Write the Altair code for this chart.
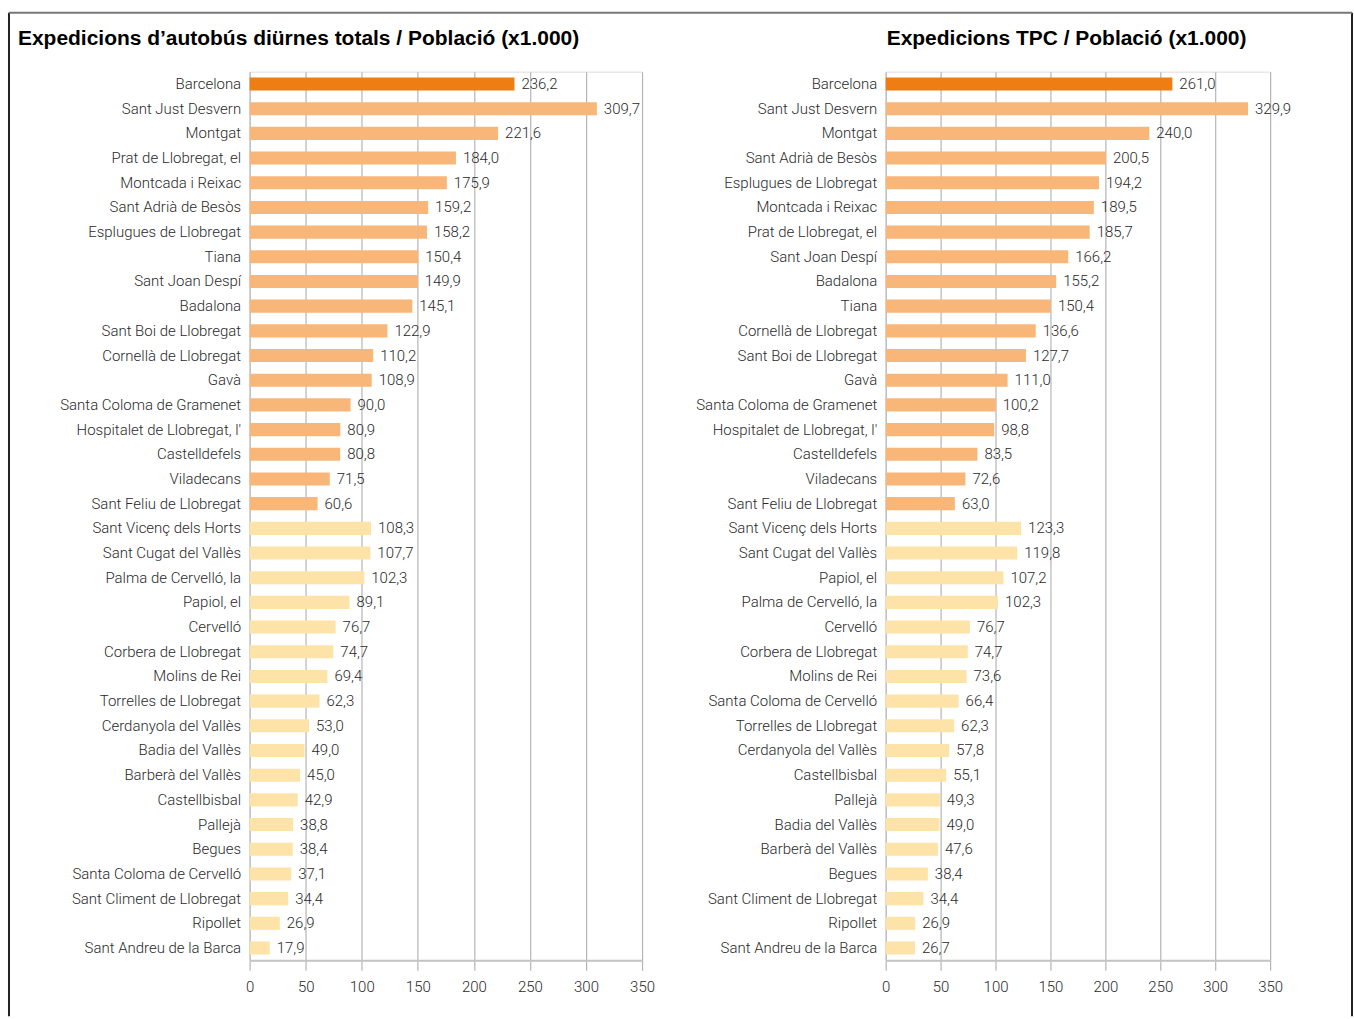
import altair as alt
import pandas as pd

FONT = "Roboto"
TITLE_FONT = "Liberation Sans"

# Left panel: total daytime bus trips per 1,000 inhabitants
left_names = [
    "Barcelona", "Sant Just Desvern", "Montgat", "Prat de Llobregat, el",
    "Montcada i Reixac", "Sant Adrià de Besòs", "Esplugues de Llobregat", "Tiana",
    "Sant Joan Despí", "Badalona", "Sant Boi de Llobregat", "Cornellà de Llobregat",
    "Gavà", "Santa Coloma de Gramenet", "Hospitalet de Llobregat, l'", "Castelldefels",
    "Viladecans", "Sant Feliu de Llobregat", "Sant Vicenç dels Horts", "Sant Cugat del Vallès",
    "Palma de Cervelló, la", "Papiol, el", "Cervelló", "Corbera de Llobregat",
    "Molins de Rei", "Torrelles de Llobregat", "Cerdanyola del Vallès", "Badia del Vallès",
    "Barberà del Vallès", "Castellbisbal", "Pallejà", "Begues",
    "Santa Coloma de Cervelló", "Sant Climent de Llobregat", "Ripollet", "Sant Andreu de la Barca",
]
left_values = [
    236.2, 309.7, 221.6, 184.0, 175.9, 159.2, 158.2, 150.4, 149.9, 145.1,
    122.9, 110.2, 108.9, 90.0, 80.9, 80.8, 71.5, 60.6, 108.3, 107.7,
    102.3, 89.1, 76.7, 74.7, 69.4, 62.3, 53.0, 49.0, 45.0, 42.9,
    38.8, 38.4, 37.1, 34.4, 26.9, 17.9,
]

# Right panel: public transport (TPC) trips per 1,000 inhabitants
right_names = [
    "Barcelona", "Sant Just Desvern", "Montgat", "Sant Adrià de Besòs",
    "Esplugues de Llobregat", "Montcada i Reixac", "Prat de Llobregat, el", "Sant Joan Despí",
    "Badalona", "Tiana", "Cornellà de Llobregat", "Sant Boi de Llobregat",
    "Gavà", "Santa Coloma de Gramenet", "Hospitalet de Llobregat, l'", "Castelldefels",
    "Viladecans", "Sant Feliu de Llobregat", "Sant Vicenç dels Horts", "Sant Cugat del Vallès",
    "Papiol, el", "Palma de Cervelló, la", "Cervelló", "Corbera de Llobregat",
    "Molins de Rei", "Santa Coloma de Cervelló", "Torrelles de Llobregat", "Cerdanyola del Vallès",
    "Castellbisbal", "Pallejà", "Badia del Vallès", "Barberà del Vallès",
    "Begues", "Sant Climent de Llobregat", "Ripollet", "Sant Andreu de la Barca",
]
right_values = [
    261.0, 329.9, 240.0, 200.5, 194.2, 189.5, 185.7, 166.2, 155.2, 150.4,
    136.6, 127.7, 111.0, 100.2, 98.8, 83.5, 72.6, 63.0, 123.3, 119.8,
    107.2, 102.3, 76.7, 74.7, 73.6, 66.4, 62.3, 57.8, 55.1, 49.3,
    49.0, 47.6, 38.4, 34.4, 26.9, 26.7,
]

# Barcelona, first-ring municipalities, rest of the metropolitan area
groups = ["bcn"] + ["first"] * 17 + ["rest"] * 18
group_domain = ["bcn", "first", "rest"]
group_colors = ["#EE7D14", "#F8B678", "#FEE3A8"]

ticks = [0, 50, 100, 150, 200, 250, 300, 350]

left_title = "Expedicions d’autobús diürnes totals / Població (x1.000)"
right_title = "Expedicions TPC / Població (x1.000)"

one = pd.DataFrame({"k": [0]})


def make_frame(names, values):
    df = pd.DataFrame({"municipi": names, "valor": values, "grup": groups})
    df["etiqueta"] = [f"{v:.1f}".replace(".", ",") for v in df["valor"]]
    return df


def panel(df, title, title_x):
    y = alt.Y(
        "municipi:N", sort=None, title=None,
        scale=alt.Scale(paddingInner=0.47, paddingOuter=0.235),
        axis=alt.Axis(ticks=False, domain=False, labelPadding=9, labelFontSize=15,
                      labelFont=FONT, labelFontWeight=300, labelColor="#2a2a2a",
                      labelLimit=400),
    )
    x = alt.X(
        "valor:Q", title=None,
        scale=alt.Scale(domain=[0, 350], nice=False),
        axis=alt.Axis(values=ticks, format="d", grid=True, gridColor="#b5b5b5",
                      gridWidth=1.2, domainColor="#c4c4c4", domainWidth=2,
                      tickColor="#b5b5b5", tickWidth=1.2, tickSize=10,
                      labelFlush=False, labelPadding=9, labelFontSize=15,
                      labelFont=FONT, labelFontWeight=300, labelColor="#2a2a2a"),
    )
    bars = alt.Chart(df).mark_bar().encode(
        x=x, y=y,
        color=alt.Color("grup:N", scale=alt.Scale(domain=group_domain, range=group_colors),
                        legend=None),
    )
    labels = alt.Chart(df).mark_text(
        align="left", baseline="middle", dx=7, font=FONT, fontSize=15,
        fontWeight=300, color="#2a2a2a",
    ).encode(x="valor:Q", y=alt.Y("municipi:N", sort=None), text="etiqueta:N")
    heading = alt.Chart(one).mark_text(
        align="left", baseline="alphabetic", font=TITLE_FONT, fontSize=21,
        fontWeight="bold", color="#000", text=title,
    ).encode(x=alt.value(title_x), y=alt.value(-27))
    return [bars, labels, heading]


# Outer frame around both panels (open at the bottom)
frame_left = alt.Chart(one).mark_rule(color="#222", strokeWidth=2).encode(
    x=alt.value(-241), y=alt.value(-59), y2=alt.value(946))
frame_right = alt.Chart(one).mark_rule(color="#222", strokeWidth=2).encode(
    x=alt.value(1104), y=alt.value(-59), y2=alt.value(946))
frame_top = alt.Chart(one).mark_rule(color="#777", strokeWidth=2).encode(
    x=alt.value(-241), x2=alt.value(1104), y=alt.value(-59))

left = alt.layer(
    *panel(make_frame(left_names, left_values), left_title, -232),
    frame_left, frame_right, frame_top,
).properties(width=393, height=890)
right = alt.layer(
    *panel(make_frame(right_names, right_values), right_title, 1),
).properties(width=385, height=890)

chart = alt.hconcat(left, right, spacing=244, bounds="flush").properties(
    padding={"left": 7, "top": 10, "right": 0, "bottom": 0},
).configure_view(stroke=None).configure(background="white")

chart.save("out.html", embed_options={"renderer": "svg", "actions": False})
